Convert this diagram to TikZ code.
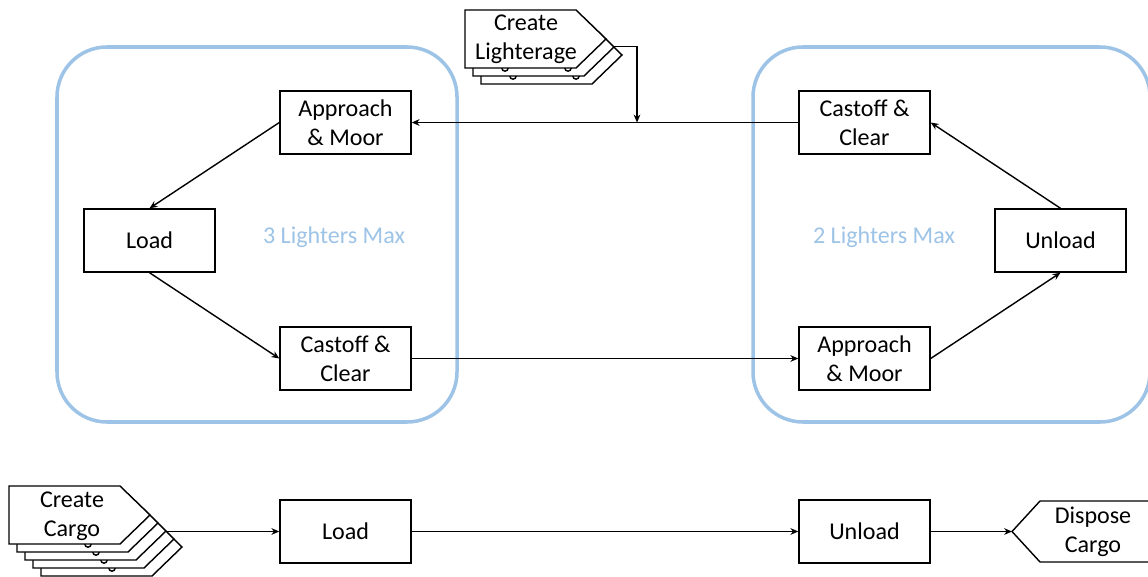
\documentclass[tikz,border=0pt]{standalone}
\usepackage{fontspec}
\setmainfont{Carlito}
\usetikzlibrary{arrows.meta}
\definecolor{zoneblue}{HTML}{9DC3E6}
\tikzset{
  every picture/.style={x=0.02cm,y=-0.02cm},
  flow/.style={draw=black,line width=0.8pt,-{Stealth[length=4.5pt,width=3.8pt]}},
  proc/.style={draw=black,line width=0.8pt,fill=white,minimum width=2.62cm,minimum height=1.26cm,
    inner sep=0pt,align=center,font=\fontsize{13.7}{16.5}\selectfont},
  zone/.style={draw=zoneblue,line width=2pt,rounded corners=1cm},
  zonelabel/.style={text=zoneblue,font=\fontsize{13.7}{16.5}\selectfont},
  sheet/.style={draw=black,line width=0.8pt,fill=white},
  modtext/.style={align=center,inner sep=0pt,font=\fontsize{13.7}{16.5}\selectfont},
}
% one sheet of a stacked "create" module: #1,#2 = offset, #3 = left edge, #4 = top edge
\newcommand\createsheet[4]{%
  \draw[sheet,shift={(#1,#2)}] (#3,#4) -- ++(111,0) -- ++(30,29) -- ++(-30,29) -- ++(-111,0) -- cycle;}
\begin{document}
\begin{tikzpicture}
\useasboundingbox (0,0) rectangle (1148,577);
\begin{scope}
\clip (0,0) rectangle (1148,577);

% capacity zones
\draw[zone] (57,47) rectangle (457,422);
\draw[zone] (753,47) rectangle (1150,422);
\node[zonelabel] (capleft) at (334,237) {3 Lighters Max};
\node[zonelabel] (capright) at (884,237) {2 Lighters Max};

% lighter cycle
\node[proc] (am1) at (345.5,122.5) {Approach\\\& Moor};
\node[proc] (load1) at (149.5,240.5) {Load};
\node[proc] (cc1) at (345.5,358.5) {Castoff \&\\Clear};
\node[proc] (cc2) at (864.5,122.5) {Castoff \&\\Clear};
\node[proc] (unload2) at (1060.5,240.5) {Unload};
\node[proc] (am2) at (864.5,358.5) {Approach\\\& Moor};

% cargo line
\node[proc] (load3) at (345.5,531.5) {Load};
\node[proc] (unload3) at (864.5,531.5) {Unload};

% Create Lighterage (stack of three sheets)
\createsheet{16}{16}{465}{10}
\foreach \k in {8,0}{
  \draw[sheet] (505+\k,68+\k) circle (3.2);
  \draw[sheet] (568+\k,68+\k) circle (3.2);
  \createsheet{\k}{\k}{465}{10}
}
\node[modtext] (mkl) at (526,39) {Create\\Lighterage};
\coordinate (mklout) at (614,46.5);

% Create Cargo (stack of five sheets)
\createsheet{32}{32}{9}{486}
\foreach \k in {24,16,8,0}{
  \draw[sheet] (88+\k,544+\k) circle (3.2);
  \createsheet{\k}{\k}{9}{486}
}
\node[modtext] (mkc) at (72,516) {Create\\Cargo};
\coordinate (mkcout) at (166,531.5);

% Dispose Cargo
\draw[sheet] (1012,531.5) -- (1040,501) -- (1170,501) -- (1170,562) -- (1040,562) -- cycle;
\node[modtext] (dsp) at (1093,532) {Dispose\\Cargo};
\coordinate (dspin) at (1012,531.5);

% connectors
\coordinate (join) at (637,122.5);
\draw[line width=0.8pt] (cc2.west) -- (join);
\draw[flow] (join) -- (am1.east);
\draw[flow] (mklout) -| (join);
\draw[flow] (am1.west) -- (load1.north);
\draw[flow] (load1.south) -- (cc1.west);
\draw[flow] (cc1.east) -- (am2.west);
\draw[flow] (am2.east) -- (unload2.south);
\draw[flow] (unload2.north) -- (cc2.east);
\draw[flow] (mkcout) -- (load3.west);
\draw[flow] (load3.east) -- (unload3.west);
\draw[flow] (unload3.east) -- (dspin);
\end{scope}
\end{tikzpicture}
\end{document}
